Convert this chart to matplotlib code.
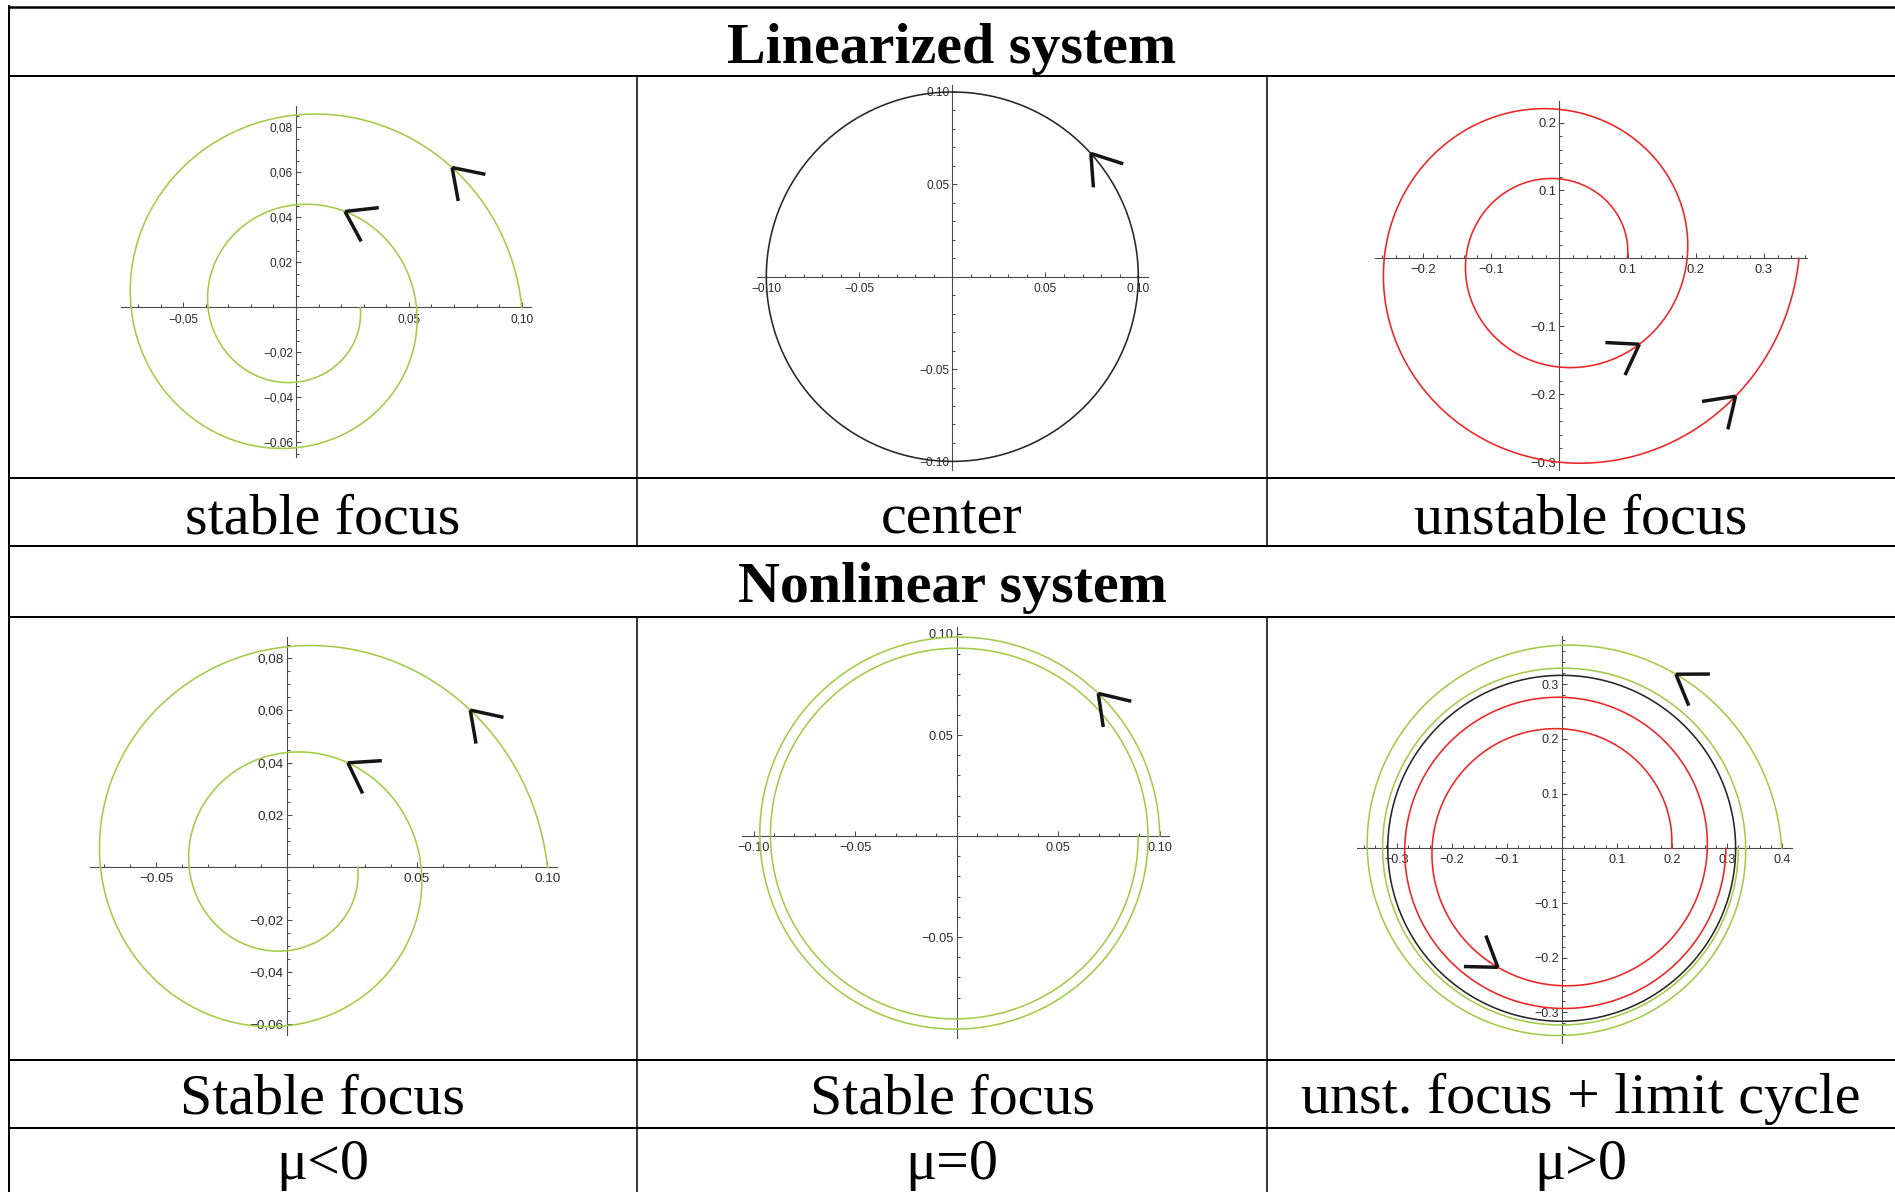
import numpy as np
import matplotlib.pyplot as plt
from matplotlib.ticker import FixedLocator, FuncFormatter

W, H = 1895, 1192

# table rules in pixels (rows top to bottom, column edges)
row_y = [7, 76, 477.5, 546, 616.5, 1060, 1128]
col_x = [9, 637, 1267, W]

header_titles = ['Linearized system', 'Nonlinear system']
linear_captions = ['stable focus', 'center', 'unstable focus']
nonlinear_captions = ['Stable focus', 'Stable focus', 'unst. focus + limit cycle']
mu_labels = ['μ<0', 'μ=0', 'μ>0']

# x' = a x - y - b x (x^2+y^2),  y' = x + a y - b y (x^2+y^2)
lin_a = [-0.1, 0.0, 0.1]
nl_mu = [-0.1, 0.0, 0.1]

GREEN = '#a2cb48'
RED = '#ef2424'
DARK = '#262626'

# trajectories: start radius on the x axis, number of turns, arrowhead times
lin_stable_r0 = [0.1]
lin_stable_turns = [2]
lin_stable_arrows = [[0.73, 7.38]]

center_r0 = [0.1]
center_turns = [1]
center_arrows = [[0.73]]

lin_unstable_r0 = [0.1]
lin_unstable_turns = [2]
lin_unstable_arrows = [[5.46, 11.9]]

nl_neg_r0 = [0.1]
nl_neg_turns = [2]
nl_neg_arrows = [[0.705, 7.32]]

nl_zero_r0 = [0.1]
nl_zero_turns = [2]
nl_zero_arrows = [[0.79]]

nl_pos_r0 = [0.4, 0.2, np.sqrt(nl_mu[2])]   # last one is the limit cycle
nl_pos_turns = [2, 2, 1]
nl_pos_arrows = [[0.99], [4.22], []]


def rk4(r0, a, b, t_end, n=4000):
    def f(p):
        x, y = p
        q = b*(x*x + y*y)
        return np.array([a*x - y - q*x, x + a*y - q*y])
    h = t_end/n
    pts = np.empty((n + 1, 2))
    p = np.array([r0, 0.0])
    pts[0] = p
    for i in range(n):
        k1 = f(p)
        k2 = f(p + h/2*k1)
        k3 = f(p + h/2*k2)
        k4 = f(p + h*k3)
        p = p + h/6*(k1 + 2*k2 + 2*k3 + k4)
        pts[i + 1] = p
    return np.linspace(0, t_end, n + 1), pts


fig = plt.figure(figsize=(W/100, H/100), dpi=100)
tab = fig.add_axes([0, 0, 1, 1])
tab.set_xlim(0, W)
tab.set_ylim(H, 0)
tab.axis('off')

# table grid
tab.plot([col_x[0], W], [row_y[0]]*2, color='k', lw=1.8)
for y in row_y[1:]:
    tab.plot([col_x[0], W], [y, y], color='k', lw=1.45)
tab.plot([col_x[0]]*2, [row_y[0] - 1, H], color='k', lw=1.45)
for x in col_x[1:3]:
    tab.plot([x, x], [row_y[1], row_y[3]], color='k', lw=1.1)
    tab.plot([x, x], [row_y[4], H], color='k', lw=1.1)

serif = 'Liberation Serif'
fs = 41.8
mid = (col_x[0] + W)/2
tab.text(mid, 63, header_titles[0], ha='center', va='baseline', family=serif,
         fontweight='bold', fontsize=fs)
tab.text(mid, 602, header_titles[1], ha='center', va='baseline', family=serif,
         fontweight='bold', fontsize=fs)
for i in range(3):
    cx = (col_x[i] + col_x[i + 1])/2
    tab.text(cx, 534, linear_captions[i], ha='center', va='baseline', family=serif, fontsize=fs)
    tab.text(cx, 1113, nonlinear_captions[i], ha='center', va='baseline', family=serif, fontsize=fs)
    tab.text(cx, 1179, mu_labels[i], ha='center', va='baseline', family=serif, fontsize=fs)


def tick_fmt(dec, sep):
    def fmt(v, pos):
        s = f'{v:.{dec}f}'.replace('-', '\u2212')
        return s.replace('.', sep)
    return FuncFormatter(fmt)


def panel(origin, scale, xr, yr, xmaj, ymaj, xstep, ystep, dec, seps, lsize,
          a, b, r0s, turns, arrows, colors):
    ox, oy = origin
    sx, sy = scale
    left, right = ox + xr[0]*sx, ox + xr[1]*sx
    top, bottom = oy - yr[1]*sy, oy - yr[0]*sy
    ax = fig.add_axes([left/W, 1 - bottom/H, (right - left)/W, (bottom - top)/H])
    ax.patch.set_alpha(0)
    ax.set_xlim(xr)
    ax.set_ylim(yr)
    for s in ['top', 'right']:
        ax.spines[s].set_visible(False)
    for s in ['left', 'bottom']:
        ax.spines[s].set_position(('data', 0))
        ax.spines[s].set_color('#4a4a4a')
        ax.spines[s].set_linewidth(0.8)

    xmin_t = np.round(np.arange(np.ceil(xr[0]/xstep), np.floor(xr[1]/xstep) + 1)*xstep, 4)
    ymin_t = np.round(np.arange(np.ceil(yr[0]/ystep), np.floor(yr[1]/ystep) + 1)*ystep, 4)
    ax.xaxis.set_major_locator(FixedLocator(xmaj))
    ax.yaxis.set_major_locator(FixedLocator(ymaj))
    ax.xaxis.set_minor_locator(FixedLocator([v for v in xmin_t if v != 0]))
    ax.yaxis.set_minor_locator(FixedLocator([v for v in ymin_t if v != 0]))
    ax.xaxis.set_major_formatter(tick_fmt(dec, seps[0]))
    ax.yaxis.set_major_formatter(tick_fmt(dec, seps[1]))
    ax.tick_params(which='both', direction='in', color='#4a4a4a', width=0.75,
                   labelsize=lsize, labelcolor='#2b2b2b', labelfontfamily='Liberation Sans')
    ax.tick_params(which='major', length=3.9)
    ax.tick_params(which='minor', length=2.4)
    ax.tick_params(axis='x', which='major', pad=4.3)
    ax.tick_params(axis='y', which='major', pad=2.2)

    for r0, nt, arr, c in zip(r0s, turns, arrows, colors):
        t, pts = rk4(r0, a, b, 2*np.pi*nt)
        ax.plot(pts[:, 0], pts[:, 1], color=c, lw=1.15, clip_on=False, zorder=3)
        # chevron arrowheads, drawn in pixel space
        px = ox + pts[:, 0]*sx
        py = oy - pts[:, 1]*sy
        for ta in arr:
            k = np.searchsorted(t, ta)
            j = k
            while j > 0 and np.hypot(px[j] - px[k], py[j] - py[k]) < 24:
                j -= 1
            d = np.array([px[j] - px[k], py[j] - py[k]])
            d /= np.hypot(*d)
            for ang in (np.radians(34), -np.radians(34)):
                rot = np.array([d[0]*np.cos(ang) - d[1]*np.sin(ang),
                                d[0]*np.sin(ang) + d[1]*np.cos(ang)])
                ex, ey = px[k] + 34*rot[0], py[k] + 34*rot[1]
                ax.plot([pts[k, 0], (ex - ox)/sx], [pts[k, 1], (oy - ey)/sy],
                        color='#151515', lw=2.5, solid_capstyle='butt',
                        clip_on=False, zorder=4)
    return ax


# linearized system
panel((296, 307.3), (2258, 2250), (-0.0775, 0.104), (-0.0665, 0.0895),
      [-0.05, 0.05, 0.10], [-0.06, -0.04, -0.02, 0.02, 0.04, 0.06, 0.08],
      0.01, 0.005, 2, (',', ','), 8.6,
      lin_a[0], 0.0, lin_stable_r0, lin_stable_turns, lin_stable_arrows, [GREEN])
panel((952.3, 276.7), (1860, 1847), (-0.105, 0.105), (-0.1047, 0.1038),
      [-0.10, -0.05, 0.05, 0.10], [-0.10, -0.05, 0.05, 0.10],
      0.01, 0.01, 2, ('.', '.'), 8.6,
      lin_a[1], 0.0, center_r0, center_turns, center_arrows, [DARK])
panel((1559.3, 258.3), (682, 679), (-0.270, 0.363), (-0.312, 0.231),
      [-0.2, -0.1, 0.1, 0.2, 0.3], [-0.3, -0.2, -0.1, 0.1, 0.2],
      0.02, 0.02, 1, ('.', '.'), 9.4,
      lin_a[2], 0.0, lin_unstable_r0, lin_unstable_turns, lin_unstable_arrows, [RED])

# nonlinear system
panel((286.7, 867.3), (2608, 2615), (-0.0754, 0.1035), (-0.0641, 0.0882),
      [-0.05, 0.05, 0.10], [-0.06, -0.04, -0.02, 0.02, 0.04, 0.06, 0.08],
      0.01, 0.005, 2, ('.', ','), 9.7,
      nl_mu[0], 1.0, nl_neg_r0, nl_neg_turns, nl_neg_arrows, [GREEN])
panel((956.7, 836), (2030, 2020), (-0.106, 0.1048), (-0.0998, 0.1033),
      [-0.10, -0.05, 0.05, 0.10], [-0.05, 0.05, 0.10],
      0.01, 0.01, 2, ('.', '.'), 9.2,
      nl_mu[1], 1.0, nl_zero_r0, nl_zero_turns, nl_zero_arrows, [GREEN])
panel((1561.7, 848.3), (550, 547), (-0.3715, 0.418), (-0.3565, 0.388),
      [-0.3, -0.2, -0.1, 0.1, 0.2, 0.3, 0.4], [-0.3, -0.2, -0.1, 0.1, 0.2, 0.3],
      0.02, 0.02, 1, ('.', '.'), 9.0,
      nl_mu[2], 1.0, nl_pos_r0, nl_pos_turns, nl_pos_arrows, [GREEN, RED, DARK])

fig.savefig('out.png', dpi=100)
